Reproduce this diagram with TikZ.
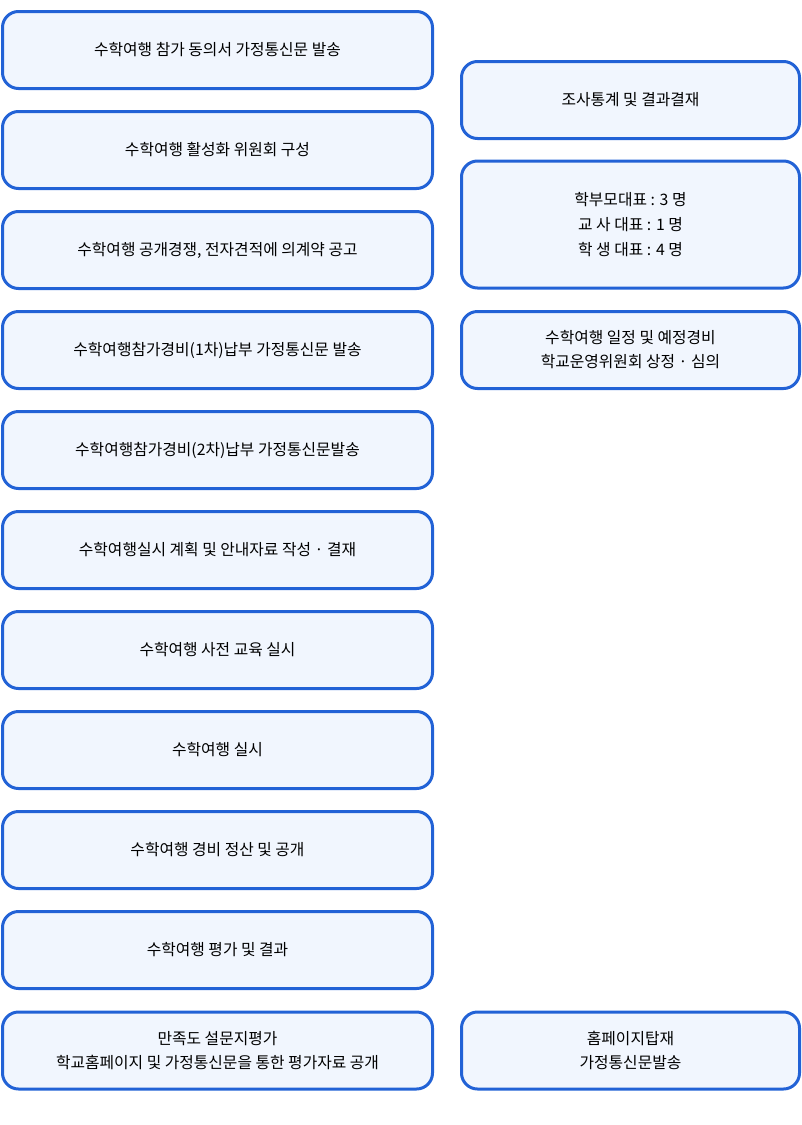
\documentclass[tikz,border=0pt]{standalone}
\usepackage{fontspec}
\newfontfamily\kr{Noto Sans CJK KR}
\definecolor{boxline}{HTML}{2262D6}
\definecolor{boxfill}{HTML}{F1F6FE}
\tikzset{
  stage/.style={draw=boxline, fill=boxfill, line width=3pt, rounded corners=16pt,
    minimum width=430pt, minimum height=77pt, align=center,
    font=\kr\fontsize{15.8}{24}\selectfont, inner sep=0pt},
  side/.style={stage, minimum width=338pt}
}
\begin{document}
\begin{tikzpicture}[x=1pt,y=-1pt]
		\useasboundingbox (0,0) rectangle (802,1125);
		% Left column
		\node[stage] (s1) at (217.5,50) {수학여행 참가 동의서 가정통신문 발송};
		\node[stage] (s2) at (217.5,150) {수학여행 활성화 위원회 구성};
		\node[stage] (s3) at (217.5,250) {수학여행 공개경쟁, 전자견적에 의계약 공고};
		\node[stage] (s4) at (217.5,350) {수학여행참가경비(1차)납부 가정통신문 발송};
		\node[stage] (s5) at (217.5,450) {수학여행참가경비(2차)납부 가정통신문발송};
		\node[stage] (s6) at (217.5,550) {수학여행실시 계획 및 안내자료 작성 · 결재};
		\node[stage] (s7) at (217.5,650) {수학여행 사전 교육 실시};
		\node[stage] (s8) at (217.5,750) {수학여행 실시};
		\node[stage] (s9) at (217.5,850) {수학여행 경비 정산 및 공개};
		\node[stage] (s10) at (217.5,950) {수학여행 평가 및 결과};
		\node[stage] (s11) at (217.5,1050.5) {만족도 설문지평가\\학교홈페이지 및 가정통신문을 통한 평가자료 공개};
		% Right column
		\node[side] (r1) at (630.5,100) {조사통계 및 결과결재};
		\node[side, minimum height=127pt, font=\kr\fontsize{15.8}{25}\selectfont] (r2) at (630.5,224.5)
			{학부모대표 : 3 명\\교 사 대표 : 1 명\\학 생 대표 : 4 명};
		\node[side] (r3) at (630.5,350) {수학여행 일정 및 예정경비\\학교운영위원회 상정 · 심의};
		\node[side] (r4) at (630.5,1050.5) {홈페이지탑재\\가정통신문발송};
	\end{tikzpicture}
\end{document}
